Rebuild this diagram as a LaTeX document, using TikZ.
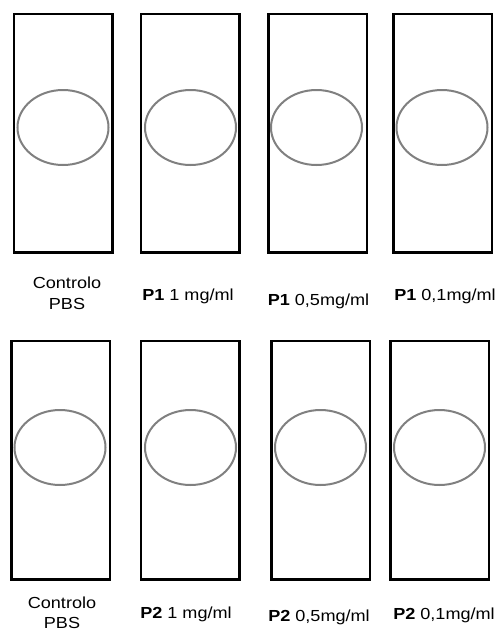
\documentclass[tikz,border=0pt]{standalone}
\usepackage{fontspec}
\setmainfont{Liberation Sans}
\usetikzlibrary{shapes.geometric}
\tikzset{
  slide/.style={draw=black, line width=2.5pt, minimum width=98.5pt, minimum height=238.5pt, inner sep=0pt},
  spot/.style={ellipse, draw=black!50, line width=2pt, minimum width=91pt, minimum height=75pt, inner sep=0pt},
  lbl/.style={anchor=base, inner sep=0pt, font=\fontsize{16}{20}\selectfont}
}
\newcommand{\wideTxt}[1]{\scalebox{1.13}[1]{#1}}
\begin{document}
\begin{tikzpicture}[x=1pt, y=-1pt]
\useasboundingbox (0,0) rectangle (497,630);
% row 1
\node[slide] (s11) at (63,133) {};
\node[slide] (s12) at (190,133) {};
\node[slide] (s13) at (317.5,133) {};
\node[slide] (s14) at (442.5,133) {};
\node[spot] (e11) at (63,127.5) {};
\node[spot] (e12) at (190.5,127.5) {};
\node[spot] (e13) at (316.5,127.5) {};
\node[spot] (e14) at (442,127.5) {};
\node[lbl] (t11a) at (67,288) {\wideTxt{Controlo}};
\node[lbl] (t11b) at (67,309) {\wideTxt{PBS}};
\node[lbl] (t12) at (188,300) {\wideTxt{\textbf{P1} 1 mg/ml}};
\node[lbl] (t13) at (318.5,305) {\wideTxt{\textbf{P1} 0,5mg/ml}};
\node[lbl] (t14) at (445,300.5) {\wideTxt{\textbf{P1} 0,1mg/ml}};
% row 2
\node[slide] (s21) at (60.5,460) {};
\node[slide] (s22) at (190,460) {};
\node[slide] (s23) at (320.5,460) {};
\node[slide] (s24) at (439.5,460) {};
\node[spot] (e21) at (60,447.5) {};
\node[spot] (e22) at (190.5,447.5) {};
\node[spot] (e23) at (320.5,447.5) {};
\node[spot] (e24) at (439.5,447.5) {};
\node[lbl] (t21a) at (62,608) {\wideTxt{Controlo}};
\node[lbl] (t21b) at (62,628) {\wideTxt{PBS}};
\node[lbl] (t22) at (186,618) {\wideTxt{\textbf{P2} 1 mg/ml}};
\node[lbl] (t23) at (319,621) {\wideTxt{\textbf{P2} 0,5mg/ml}};
\node[lbl] (t24) at (444,619) {\wideTxt{\textbf{P2} 0,1mg/ml}};
\end{tikzpicture}
\end{document}
